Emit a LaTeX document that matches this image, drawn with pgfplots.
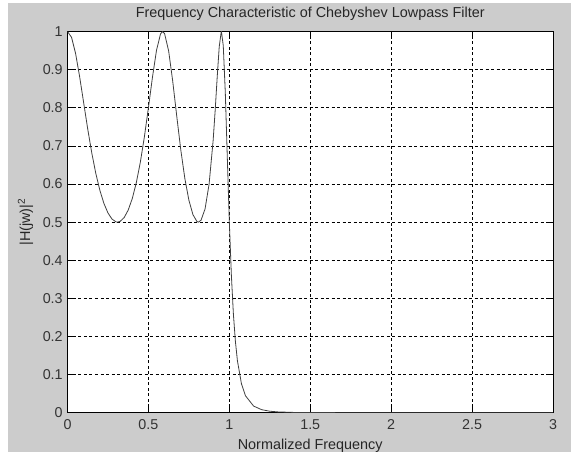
\documentclass[border=0pt]{standalone}
\usepackage{pgfplots}
\pgfplotsset{compat=1.18}
\usepackage{fontspec}
\setmainfont{Liberation Sans}
\definecolor{figgray}{RGB}{204,204,204}
\begin{document}
\fontsize{14pt}{16pt}\selectfont
\begin{tikzpicture}[x=1pt,y=1pt]
\path[use as bounding box] (0,0) rectangle (571,455);
\fill[figgray] (8,3) rectangle (571,452);
\begin{axis}[
  at={(67.5pt,42.3pt)}, anchor=south west,
  scale only axis, width=485.5pt, height=381.2pt,
  xmin=0, xmax=3, ymin=0, ymax=1,
  xtick={0,0.5,...,3}, ytick={0,0.1,...,1},
  axis background/.style={fill=white},
  axis line style={black, line width=0.8pt},
  tick align=inside, major tick length=6pt,
  tick style={black, line width=0.6pt},
  grid=major,
  major grid style={black, line width=0.6pt, dash pattern=on 3pt off 2.5pt},
  /pgf/number format/assume math mode=true,
  ticklabel style={font=\fontsize{14.3pt}{16pt}\selectfont, text=black!80},
  xticklabel style={yshift=-2pt},
  title={Frequency Characteristic of Chebyshev Lowpass Filter},
  title style={font=\fontsize{14.4pt}{16pt}\selectfont, text=black!85},
  xlabel={Normalized Frequency},
  ylabel={|H(jw)|\textsuperscript{2}},
  label style={font=\fontsize{14.4pt}{16pt}\selectfont, text=black!85},
]
\addplot[black!75, line width=0.8pt] coordinates {
(0,1) (0.025,0.98469) (0.05,0.94228) (0.075,0.88151) (0.1,0.81264)
(0.125,0.74410) (0.15,0.68145) (0.175,0.62752) (0.2,0.58335) (0.225,0.54897)
(0.25,0.52399) (0.275,0.50795) (0.3,0.50056) (0.309,0.5) (0.325,0.50178)
(0.35,0.51186) (0.375,0.53144) (0.4,0.56143) (0.425,0.60292) (0.45,0.65688)
(0.475,0.72334) (0.5,0.8) (0.525,0.88011) (0.55,0.95068) (0.575,0.99388)
(0.5878,1) (0.6,0.99428) (0.625,0.94895) (0.65,0.87030) (0.675,0.77817)
(0.7,0.68962) (0.725,0.61471) (0.75,0.55766) (0.775,0.51968) (0.8,0.50144)
(0.809,0.5) (0.825,0.50482) (0.85,0.53451) (0.875,0.59977) (0.9,0.71448)
(0.9125,0.79290) (0.925,0.88012) (0.9375,0.95972) (0.95,0.99971) (0.9511,1)
(0.9625,0.96305) (0.975,0.84068) (0.9875,0.66934) (1.0,0.5) (1.0125,0.36171)
(1.025,0.25939) (1.0375,0.18692) (1.05,0.13623) (1.075,0.07551) (1.1,0.04424)
(1.15,0.01740) (1.2,0.00784) (1.25,0.00388) (1.3,0.00207) (1.4,0.00069)
(1.5,0.00026) (1.75,0.00004) (2.0,0.00001) (2.5,0) (3.0,0)
};
\end{axis}
\end{tikzpicture}
\end{document}
